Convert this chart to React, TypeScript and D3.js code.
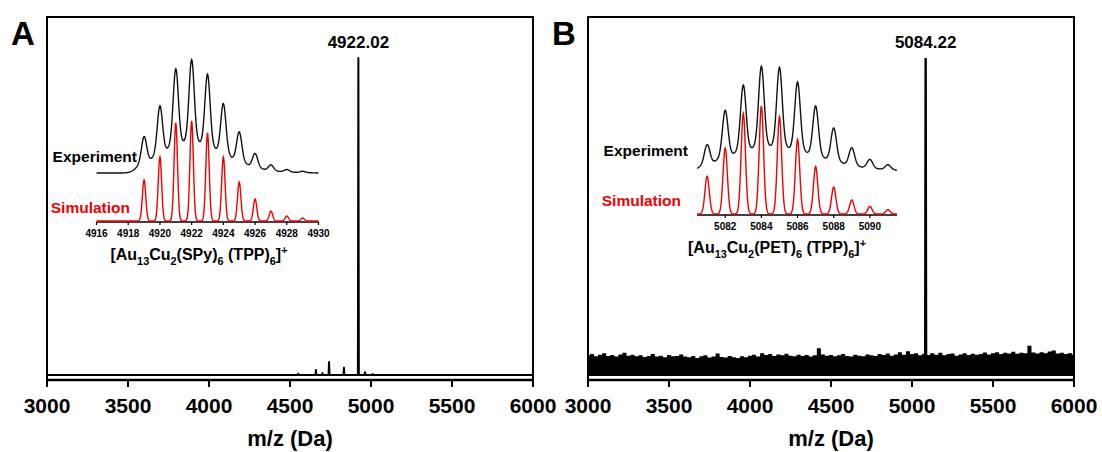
import React from 'react';
import * as d3 from 'd3';

const W = 1102;
const H = 452;
const FONT = "'Liberation Sans', Arial, Helvetica, sans-serif";
const RED = '#f00000';

// main axis
const mainTicks = [3000, 3500, 4000, 4500, 5000, 5500, 6000];

// panel A full spectrum: stick peaks (m/z, relative intensity)
const peaksA_mz = [4550, 4660, 4700, 4741, 4833, 4922.02, 4963, 5010];
const peaksA_int = [0.4, 1.6, 0.6, 4.1, 2.3, 100, 0.9, 0.3];

// panel B full spectrum: noise envelope every 25 Da from 3000 to 6000 + main peak
const noiseB = [
  6.2, 6.6, 5.9, 6.4, 6.9, 6.0, 6.3, 5.8, 6.5, 7.0, 6.1, 6.4, 5.9,
  6.2, 5.7, 6.0, 6.6, 5.8, 6.1, 5.6, 6.3, 5.9, 6.0, 6.5, 5.8,
  5.6, 6.0, 5.4, 5.9, 6.2, 5.5, 5.8, 6.8, 5.7, 5.5, 6.0, 5.6,
  5.4, 5.9, 5.6, 6.1, 6.4, 5.8, 6.9, 6.3, 6.6, 6.0, 6.5, 6.2,
  6.7, 6.1, 5.9, 6.4, 6.0, 6.3, 5.8, 6.2, 8.4, 6.5, 6.1, 6.3,
  5.9, 6.2, 6.6, 6.0, 5.8, 6.4, 6.1, 5.9, 6.5, 6.2, 6.0, 6.6,
  6.3, 6.8, 6.1, 6.5, 7.2, 6.4, 7.5, 6.6, 6.9, 6.2, 6.7, 6.3,
  6.9, 6.4, 7.0, 6.2, 6.6, 6.8, 6.1, 6.5, 6.9, 6.3, 6.7, 6.4,
  6.6, 7.1, 6.5, 6.9, 7.2, 6.6, 7.0, 6.8, 7.3, 6.7, 7.0, 6.9,
  9.2, 7.1, 6.8, 7.2, 6.9, 7.4, 7.7, 6.8, 7.0, 6.6, 6.9, 6.5,
];
const peakB_mz = 5084.22;
const peakB_int = 100;

// inset A isotope pattern
const isoA_mz = [4919, 4920, 4921, 4922, 4923, 4924, 4925, 4926, 4927, 4928, 4929];
const expA = [32, 59, 92, 100, 87, 61, 36, 17, 7, 3, 1.5];
const simA = [41, 64, 98, 100, 88, 64, 39, 22, 10, 5, 3];
const insetTicksA = [4916, 4918, 4920, 4922, 4924, 4926, 4928, 4930];

// inset B isotope pattern
const isoB_mz = [5081, 5082, 5083, 5084, 5085, 5086, 5087, 5088, 5089, 5090, 5091];
const expB = [25, 58, 82, 100, 99, 85, 62, 41, 22, 11, 6];
const simB = [35, 61, 93, 100, 90, 69, 44, 25, 13, 7, 4];
const insetTicksB = [5082, 5084, 5086, 5088, 5090];

type Pt = [number, number];

// isotope peak profile built from the peak list
function profile(mz: number[], h: number[], dom: [number, number], sigma: number, broad: number) {
  const pts: Pt[] = [];
  for (let x = dom[0]; x <= dom[1] + 1e-9; x += 0.02) {
    let v = 0;
    mz.forEach((m, i) => {
      const dx = x - m;
      v += h[i] * ((1 - broad) * Math.exp((-dx * dx) / (2 * sigma * sigma)) + broad * Math.exp((-dx * dx) / (2 * 0.42 * 0.42)));
    });
    pts.push([x, v]);
  }
  return pts;
}

function sticks(mz: number[], h: number[], half: number): Pt[] {
  const pts: Pt[] = [[3000, 0]];
  mz.forEach((m, i) => {
    pts.push([m - half, 0], [m, h[i]], [m + half, 0]);
  });
  pts.push([6000, 0]);
  return pts;
}

function Formula({ x, y, ligand, size }: { x: number; y: number; ligand: string; size: number }) {
  const sub = size * 0.68;
  const d = size * 0.3;
  return (
    <text x={x} y={y} textAnchor="middle" fontSize={size} fontWeight="bold" fontFamily={FONT}>
      [Au<tspan dy={d} fontSize={sub}>13</tspan>
      <tspan dy={-d}>Cu</tspan>
      <tspan dy={d} fontSize={sub}>2</tspan>
      <tspan dy={-d}>({ligand})</tspan>
      <tspan dy={d} fontSize={sub}>6</tspan>
      <tspan dy={-d}> (TPP)</tspan>
      <tspan dy={d} fontSize={sub}>6</tspan>
      <tspan dy={-d}>]</tspan>
      <tspan dy={-size * 0.35} fontSize={sub}>+</tspan>
    </text>
  );
}

function MainFrame({ x0, x1, letter }: { x0: number; x1: number; letter: string }) {
  const x = d3.scaleLinear().domain([3000, 6000]).range([x0, x1]);
  const top = 17;
  const bottom = 380;
  return (
    <g>
      <rect x={x0} y={top} width={x1 - x0} height={bottom - top} fill="none" stroke="#000" strokeWidth={2} />
      <line x1={x0} x2={x1} y1={bottom} y2={bottom} stroke="#000" strokeWidth={2.5} />
      {mainTicks.map((t) => (
        <g key={t}>
          <line x1={x(t)} x2={x(t)} y1={bottom} y2={bottom + 7} stroke="#000" strokeWidth={2} />
          <text x={x(t)} y={413} textAnchor="middle" fontSize={21} fontWeight="bold" fontFamily={FONT}>
            {t}
          </text>
        </g>
      ))}
      <text x={(x0 + x1) / 2} y={446} textAnchor="middle" fontSize={22} fontWeight="bold" fontFamily={FONT}>
        m/z (Da)
      </text>
      <text x={x0 - 36} y={45} fontSize={33} fontWeight="bold" fontFamily={FONT}>
        {letter}
      </text>
    </g>
  );
}

function Inset(props: {
  dom: [number, number];
  xr: [number, number];
  mz: number[];
  exp: number[];
  sim: number[];
  expY: [number, number];
  simY: [number, number];
  axisY: number;
  ticks: number[];
  tickSize: number;
  labelRight: number;
  expLabelY: number;
  simLabelY: number;
  ligand: string;
  formulaX: number;
  formulaY: number;
  sigmaSim: number;
  sigmaExp: number;
  broad: number;
}) {
  const x = d3.scaleLinear().domain(props.dom).range(props.xr);
  const ye = d3.scaleLinear().domain([0, 100]).range(props.expY);
  const ys = d3.scaleLinear().domain([0, 100]).range(props.simY);
  const lineE = d3.line<Pt>().x((d) => x(d[0])).y((d) => ye(d[1]));
  const lineS = d3.line<Pt>().x((d) => x(d[0])).y((d) => ys(d[1]));
  const pe = profile(props.mz, props.exp, props.dom, props.sigmaExp, props.broad);
  const ps = profile(props.mz, props.sim, props.dom, props.sigmaSim, 0);
  return (
    <g>
      <line x1={props.xr[0]} x2={props.xr[1]} y1={props.axisY} y2={props.axisY} stroke="#000" strokeWidth={1.3} />
      {props.ticks.map((t) => (
        <g key={t}>
          <line x1={x(t)} x2={x(t)} y1={props.axisY} y2={props.axisY + 3} stroke="#000" strokeWidth={1.2} />
          <text x={x(t)} y={props.axisY + 15} textAnchor="middle" fontSize={props.tickSize} fontWeight="bold" fontFamily={FONT}>
            {t}
          </text>
        </g>
      ))}
      <path d={lineE(pe) || ''} fill="none" stroke="#111" strokeWidth={1.4} />
      <path d={lineS(ps) || ''} fill="none" stroke={RED} strokeWidth={1.4} />
      <text x={props.labelRight} y={props.expLabelY} textAnchor="end" fontSize={15.5} fontWeight="bold" fontFamily={FONT}>
        Experiment
      </text>
      <text x={props.labelRight - 7} y={props.simLabelY} textAnchor="end" fontSize={15.5} fontWeight="bold" fontFamily={FONT} fill={RED}>
        Simulation
      </text>
      <Formula x={props.formulaX} y={props.formulaY} ligand={props.ligand} size={16} />
    </g>
  );
}

export default function App() {
  const xA = d3.scaleLinear().domain([3000, 6000]).range([47, 533]);
  const xB = d3.scaleLinear().domain([3000, 6000]).range([588, 1074]);
  const y = d3.scaleLinear().domain([0, 100]).range([375, 58]);

  const lineA = d3.line<Pt>().x((d) => xA(d[0])).y((d) => y(d[1]));
  const noisePts: Pt[] = noiseB.map((v, i) => [3000 + i * 25, v]);
  const areaB = d3
    .area<Pt>()
    .x((d) => xB(d[0]))
    .y0(y(-0.3))
    .y1((d) => y(d[1]))
    .curve(d3.curveStep);
  const lineB = d3.line<Pt>().x((d) => xB(d[0])).y((d) => y(d[1]));

  return (
    <svg width={W} height={H} style={{ position: 'absolute', left: 0, top: 0, background: '#fff' }}>
      <MainFrame x0={47} x1={533} letter="A" />
      <MainFrame x0={588} x1={1074} letter="B" />

      {/* panel A spectrum */}
      <path d={lineA(sticks(peaksA_mz, peaksA_int, 3)) || ''} fill="none" stroke="#000" strokeWidth={2} strokeLinejoin="round" />
      <text x={xA(4922.02)} y={48} textAnchor="middle" fontSize={17} fontWeight="bold" fontFamily={FONT}>
        4922.02
      </text>

      {/* panel B spectrum */}
      <path d={areaB(noisePts) || ''} fill="#000" />
      <path d={lineB(sticks([peakB_mz], [peakB_int], 3).slice(1, 4)) || ''} fill="none" stroke="#000" strokeWidth={2.4} />
      <text x={xB(peakB_mz)} y={48} textAnchor="middle" fontSize={17} fontWeight="bold" fontFamily={FONT}>
        5084.22
      </text>

      <Inset
        dom={[4916, 4930]}
        xr={[96.5, 318.5]}
        mz={isoA_mz}
        exp={expA}
        sim={simA}
        expY={[173, 63]}
        simY={[221, 121]}
        axisY={222}
        ticks={insetTicksA}
        tickSize={10}
        labelRight={137}
        expLabelY={162}
        simLabelY={213}
        ligand="SPy"
        formulaX={199}
        formulaY={260}
        sigmaSim={0.107}
        sigmaExp={0.16}
        broad={0.3}
      />
      <Inset
        dom={[5080.44, 5091.5]}
        xr={[697, 897]}
        mz={isoB_mz}
        exp={expB}
        sim={simB}
        expY={[171, 69]}
        simY={[214, 106]}
        axisY={215}
        ticks={insetTicksB}
        tickSize={10}
        labelRight={688}
        expLabelY={156}
        simLabelY={206}
        ligand="PET"
        formulaX={777}
        formulaY={253}
        sigmaSim={0.12}
        sigmaExp={0.15}
        broad={0.25}
      />
    </svg>
  );
}
